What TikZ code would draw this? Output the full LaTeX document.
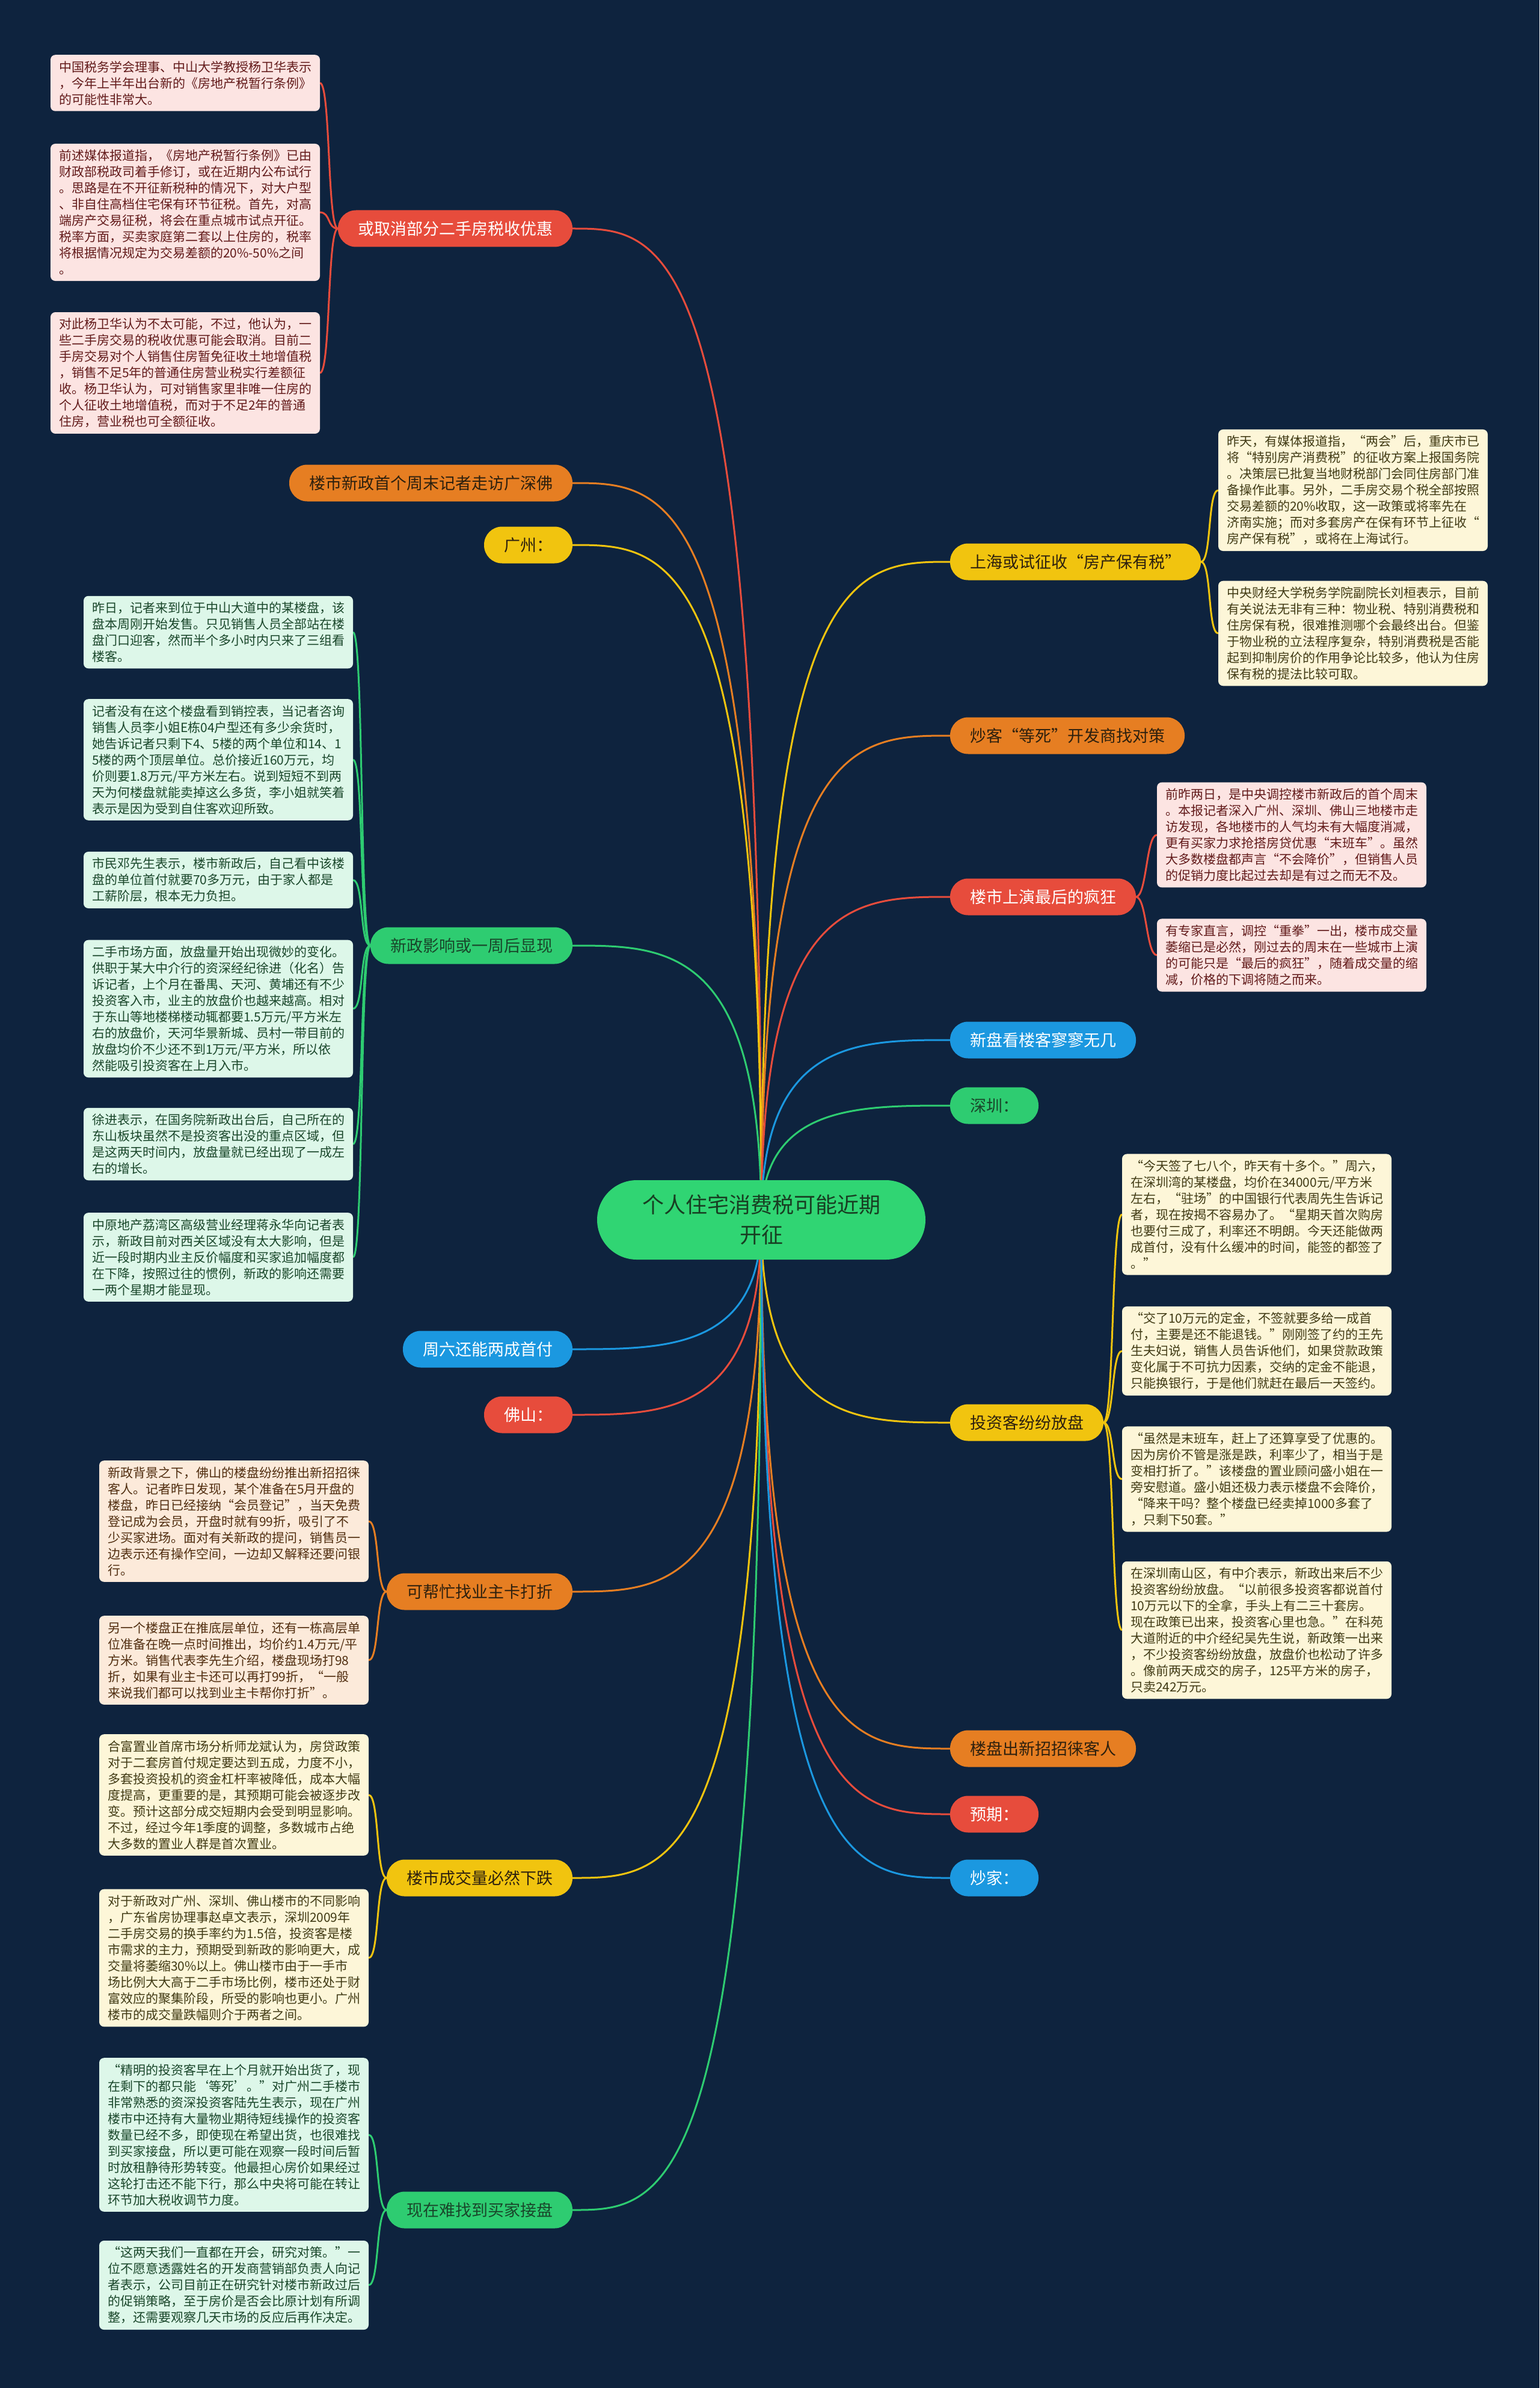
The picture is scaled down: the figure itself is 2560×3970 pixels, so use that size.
\documentclass[tikz,border=0pt]{standalone}
\usepackage{fontspec}
\setmainfont{Noto Sans CJK SC}
\usetikzlibrary{calc}

\definecolor{bgnavy}{RGB}{14,35,62}
\definecolor{cred}{RGB}{231,76,60}
\definecolor{corange}{RGB}{230,126,34}
\definecolor{cyellow}{RGB}{241,196,15}
\definecolor{cgreen}{RGB}{46,204,113}
\definecolor{cblue}{RGB}{27,152,224}
\definecolor{rootgreen}{RGB}{48,213,115}
\definecolor{roottext}{RGB}{24,62,34}
\definecolor{redfill}{RGB}{252,228,226}
\definecolor{redtext}{RGB}{98,26,26}
\definecolor{orangefill}{RGB}{252,234,218}
\definecolor{orangetext}{RGB}{80,45,15}
\definecolor{yellowfill}{RGB}{253,246,216}
\definecolor{yellowtext}{RGB}{64,58,20}
\definecolor{greenfill}{RGB}{221,247,233}
\definecolor{greentext}{RGB}{25,70,42}
\definecolor{darktopic}{RGB}{45,32,14}

\pgfdeclarelayer{back}
\pgfdeclarelayer{links}
\pgfsetlayers{back,links,main}

\begin{document}
\begin{tikzpicture}[
    x=0.5pt, y=-0.5pt,
    every node/.style={inner sep=0pt, outer sep=0pt},
    rootnode/.style={fill=rootgreen, text=roottext, rounded corners=33pt, minimum width=273pt, minimum height=66pt, align=center, font=\fontsize{18pt}{25pt}\selectfont},
    topic/.style={rounded corners=15pt, minimum height=30.5pt, inner xsep=16.5pt, font=\fontsize{13.5pt}{16pt}\selectfont},
    redtopic/.style={topic, fill=cred, text=white},
    orangetopic/.style={topic, fill=corange, text=darktopic},
    yellowtopic/.style={topic, fill=cyellow, text=darktopic},
    greentopic/.style={topic, fill=cgreen, text=greentext},
    bluetopic/.style={topic, fill=cblue, text=white},
    note/.style={rounded corners=4pt, text width=210pt, inner xsep=7pt, inner ysep=5pt, align=left, font=\fontsize{10.5pt}{13.5pt}\selectfont},
    rednote/.style={note, fill=redfill, text=redtext},
    orangenote/.style={note, fill=orangefill, text=orangetext},
    yellownote/.style={note, fill=yellowfill, text=yellowtext},
    greennote/.style={note, fill=greenfill, text=greentext},
    rootlink/.style={line width=1.5pt, to path={.. controls (\tikztostart |- \tikztotarget) and ($(\tikztostart |- \tikztotarget)!0.5!(\tikztotarget)$) .. (\tikztotarget)}},
    leafleft/.style={line width=1.5pt, to path={.. controls +(-18,0) and +(18,0) .. (\tikztotarget)}},
    leafright/.style={line width=1.5pt, to path={.. controls +(18,0) and +(-18,0) .. (\tikztotarget)}}
]
\useasboundingbox (0,0) rectangle (2560,3970);
\begin{pgfonlayer}{back}
\fill[bgnavy] (0,0) rectangle (2560,3970);
\end{pgfonlayer}

% centre
\node[rootnode] (root) at (1266,2028) {个人住宅消费税可能近期\\开征};

% left topics
\node[redtopic, anchor=east] (tax) at (952,380) {或取消部分二手房税收优惠};
\node[orangetopic, anchor=east] (visit) at (952,803) {楼市新政首个周末记者走访广深佛};
\node[yellowtopic, anchor=east] (gz) at (952,906) {广州：};
\node[greentopic, anchor=east] (impact) at (952,1572) {新政影响或一周后显现};
\node[bluetopic, anchor=east] (sat) at (952,2243) {周六还能两成首付};
\node[redtopic, anchor=east] (fs) at (952,2352) {佛山：};
\node[orangetopic, anchor=east] (card) at (952,2646) {可帮忙找业主卡打折};
\node[yellowtopic, anchor=east] (volume) at (952,3122) {楼市成交量必然下跌};
\node[greentopic, anchor=east] (buyer) at (952,3674) {现在难找到买家接盘};

% right topics
\node[yellowtopic, anchor=west] (sh) at (1580,934) {上海或试征收“房产保有税”};
\node[orangetopic, anchor=west] (spec) at (1580,1223) {炒客“等死”开发商找对策};
\node[redtopic, anchor=west] (crazy) at (1580,1491) {楼市上演最后的疯狂};
\node[bluetopic, anchor=west] (newpan) at (1580,1729) {新盘看楼客寥寥无几};
\node[greentopic, anchor=west] (sz) at (1580,1838) {深圳：};
\node[yellowtopic, anchor=west] (invest) at (1580,2365) {投资客纷纷放盘};
\node[orangetopic, anchor=west] (trick) at (1580,2907) {楼盘出新招招徕客人};
\node[redtopic, anchor=west] (expect) at (1580,3016) {预期：};
\node[bluetopic, anchor=west] (trader) at (1580,3122) {炒家：};

% notes of tax
\node[rednote, anchor=east] (tax1) at (532,138) {中国税务学会理事、中山大学教授杨卫华表示\\，今年上半年出台新的《房地产税暂行条例》\\的可能性非常大。};
\node[rednote, anchor=east] (tax2) at (532,353) {前述媒体报道指，《房地产税暂行条例》已由\\财政部税政司着手修订，或在近期内公布试行\\。思路是在不开征新税种的情况下，对大户型\\、非自住高档住宅保有环节征税。首先，对高\\端房产交易征税，将会在重点城市试点开征。\\税率方面，买卖家庭第二套以上住房的，税率\\将根据情况规定为交易差额的20\%-50\%之间\\。};
\node[rednote, anchor=east] (tax3) at (532,620) {对此杨卫华认为不太可能，不过，他认为，一\\些二手房交易的税收优惠可能会取消。目前二\\手房交易对个人销售住房暂免征收土地增值税\\，销售不足5年的普通住房营业税实行差额征\\收。杨卫华认为，可对销售家里非唯一住房的\\个人征收土地增值税，而对于不足2年的普通\\住房，营业税也可全额征收。};

% notes of impact
\node[greennote, anchor=east] (impact1) at (587,1051) {昨日，记者来到位于中山大道中的某楼盘，该\\盘本周刚开始发售。只见销售人员全部站在楼\\盘门口迎客，然而半个多小时内只来了三组看\\楼客。};
\node[greennote, anchor=east] (impact2) at (587,1263) {记者没有在这个楼盘看到销控表，当记者咨询\\销售人员李小姐E栋04户型还有多少余货时，\\她告诉记者只剩下4、5楼的两个单位和14、1\\5楼的两个顶层单位。总价接近160万元，均\\价则要1.8万元/平方米左右。说到短短不到两\\天为何楼盘就能卖掉这么多货，李小姐就笑着\\表示是因为受到自住客欢迎所致。};
\node[greennote, anchor=east] (impact3) at (587,1463) {市民邓先生表示，楼市新政后，自己看中该楼\\盘的单位首付就要70多万元，由于家人都是\\工薪阶层，根本无力负担。};
\node[greennote, anchor=east] (impact4) at (587,1677) {二手市场方面，放盘量开始出现微妙的变化。\\供职于某大中介行的资深经纪徐进（化名）告\\诉记者，上个月在番禺、天河、黄埔还有不少\\投资客入市，业主的放盘价也越来越高。相对\\于东山等地楼梯楼动辄都要1.5万元/平方米左\\右的放盘价，天河华景新城、员村一带目前的\\放盘均价不少还不到1万元/平方米，所以依\\然能吸引投资客在上月入市。};
\node[greennote, anchor=east] (impact5) at (587,1902) {徐进表示，在国务院新政出台后，自己所在的\\东山板块虽然不是投资客出没的重点区域，但\\是这两天时间内，放盘量就已经出现了一成左\\右的增长。};
\node[greennote, anchor=east] (impact6) at (587,2090) {中原地产荔湾区高级营业经理蒋永华向记者表\\示，新政目前对西关区域没有太大影响，但是\\近一段时期内业主反价幅度和买家追加幅度都\\在下降，按照过往的惯例，新政的影响还需要\\一两个星期才能显现。};

% notes of card
\node[orangenote, anchor=east] (card1) at (613,2529) {新政背景之下，佛山的楼盘纷纷推出新招招徕\\客人。记者昨日发现，某个准备在5月开盘的\\楼盘，昨日已经接纳“会员登记”，当天免费\\登记成为会员，开盘时就有99折，吸引了不\\少买家进场。面对有关新政的提问，销售员一\\边表示还有操作空间，一边却又解释还要问银\\行。};
\node[orangenote, anchor=east] (card2) at (613,2760) {另一个楼盘正在推底层单位，还有一栋高层单\\位准备在晚一点时间推出，均价约1.4万元/平\\方米。销售代表李先生介绍，楼盘现场打98\\折，如果有业主卡还可以再打99折，“一般\\来说我们都可以找到业主卡帮你打折”。};

% notes of volume
\node[yellownote, anchor=east] (volume1) at (613,2984) {合富置业首席市场分析师龙斌认为，房贷政策\\对于二套房首付规定要达到五成，力度不小，\\多套投资投机的资金杠杆率被降低，成本大幅\\度提高，更重要的是，其预期可能会被逐步改\\变。预计这部分成交短期内会受到明显影响。\\不过，经过今年1季度的调整，多数城市占绝\\大多数的置业人群是首次置业。};
\node[yellownote, anchor=east] (volume2) at (613,3255) {对于新政对广州、深圳、佛山楼市的不同影响\\，广东省房协理事赵卓文表示，深圳2009年\\二手房交易的换手率约为1.5倍，投资客是楼\\市需求的主力，预期受到新政的影响更大，成\\交量将萎缩30\%以上。佛山楼市由于一手市\\场比例大大高于二手市场比例，楼市还处于财\\富效应的聚集阶段，所受的影响也更小。广州\\楼市的成交量跌幅则介于两者之间。};

% notes of buyer
\node[greennote, anchor=east] (buyer1) at (613,3549) {“精明的投资客早在上个月就开始出货了，现\\在剩下的都只能‘等死’。”对广州二手楼市\\非常熟悉的资深投资客陆先生表示，现在广州\\楼市中还持有大量物业期待短线操作的投资客\\数量已经不多，即使现在希望出货，也很难找\\到买家接盘，所以更可能在观察一段时间后暂\\时放租静待形势转变。他最担心房价如果经过\\这轮打击还不能下行，那么中央将可能在转让\\环节加大税收调节力度。};
\node[greennote, anchor=east] (buyer2) at (613,3799) {“这两天我们一直都在开会，研究对策。”一\\位不愿意透露姓名的开发商营销部负责人向记\\者表示，公司目前正在研究针对楼市新政过后\\的促销策略，至于房价是否会比原计划有所调\\整，还需要观察几天市场的反应后再作决定。};

% notes of sh
\node[yellownote, anchor=west] (sh1) at (2026,815) {昨天，有媒体报道指，“两会”后，重庆市已\\将“特别房产消费税”的征收方案上报国务院\\。决策层已批复当地财税部门会同住房部门准\\备操作此事。另外，二手房交易个税全部按照\\交易差额的20\%收取，这一政策或将率先在\\济南实施；而对多套房产在保有环节上征收“\\房产保有税”，或将在上海试行。};
\node[yellownote, anchor=west] (sh2) at (2026,1053) {中央财经大学税务学院副院长刘桓表示，目前\\有关说法无非有三种：物业税、特别消费税和\\住房保有税，很难推测哪个会最终出台。但鉴\\于物业税的立法程序复杂，特别消费税是否能\\起到抑制房价的作用争论比较多，他认为住房\\保有税的提法比较可取。};

% notes of crazy
\node[rednote, anchor=west] (crazy1) at (1924,1388) {前昨两日，是中央调控楼市新政后的首个周末\\。本报记者深入广州、深圳、佛山三地楼市走\\访发现，各地楼市的人气均未有大幅度消减，\\更有买家力求抢搭房贷优惠“末班车”。虽然\\大多数楼盘都声言“不会降价”，但销售人员\\的促销力度比起过去却是有过之而无不及。};
\node[rednote, anchor=west] (crazy2) at (1924,1588) {有专家直言，调控“重拳”一出，楼市成交量\\萎缩已是必然，刚过去的周末在一些城市上演\\的可能只是“最后的疯狂”，随着成交量的缩\\减，价格的下调将随之而来。};

% notes of invest
\node[yellownote, anchor=west] (invest1) at (1866,2019) {“今天签了七八个，昨天有十多个。”周六，\\在深圳湾的某楼盘，均价在34000元/平方米\\左右，“驻场”的中国银行代表周先生告诉记\\者，现在按揭不容易办了。“星期天首次购房\\也要付三成了，利率还不明朗。今天还能做两\\成首付，没有什么缓冲的时间，能签的都签了\\。”};
\node[yellownote, anchor=west] (invest2) at (1866,2246) {“交了10万元的定金，不签就要多给一成首\\付，主要是还不能退钱。”刚刚签了约的王先\\生夫妇说，销售人员告诉他们，如果贷款政策\\变化属于不可抗力因素，交纳的定金不能退，\\只能换银行，于是他们就赶在最后一天签约。};
\node[yellownote, anchor=west] (invest3) at (1866,2459) {“虽然是末班车，赶上了还算享受了优惠的。\\因为房价不管是涨是跌，利率少了，相当于是\\变相打折了。”该楼盘的置业顾问盛小姐在一\\旁安慰道。盛小姐还极力表示楼盘不会降价，\\“降来干吗？整个楼盘已经卖掉1000多套了\\，只剩下50套。”};
\node[yellownote, anchor=west] (invest4) at (1866,2710) {在深圳南山区，有中介表示，新政出来后不少\\投资客纷纷放盘。“以前很多投资客都说首付\\10万元以下的全拿，手头上有二三十套房。\\现在政策已出来，投资客心里也急。”在科苑\\大道附近的中介经纪吴先生说，新政策一出来\\，不少投资客纷纷放盘，放盘价也松动了许多\\。像前两天成交的房子，125平方米的房子，\\只卖242万元。};

% Connections
\begin{pgfonlayer}{links}
\draw[rootlink, cred] (root.center) to (tax.east);
\draw[rootlink, corange] (root.center) to (visit.east);
\draw[rootlink, cyellow] (root.center) to (gz.east);
\draw[rootlink, cgreen] (root.center) to (impact.east);
\draw[rootlink, cblue] (root.center) to (sat.east);
\draw[rootlink, cred] (root.center) to (fs.east);
\draw[rootlink, corange] (root.center) to (card.east);
\draw[rootlink, cyellow] (root.center) to (volume.east);
\draw[rootlink, cgreen] (root.center) to (buyer.east);
\draw[rootlink, cyellow] (root.center) to (sh.west);
\draw[rootlink, corange] (root.center) to (spec.west);
\draw[rootlink, cred] (root.center) to (crazy.west);
\draw[rootlink, cblue] (root.center) to (newpan.west);
\draw[rootlink, cgreen] (root.center) to (sz.west);
\draw[rootlink, cyellow] (root.center) to (invest.west);
\draw[rootlink, corange] (root.center) to (trick.west);
\draw[rootlink, cred] (root.center) to (expect.west);
\draw[rootlink, cblue] (root.center) to (trader.west);

\foreach \n in {1,2,3} \draw[leafleft, cred] (tax.west) to (tax\n.east);
\foreach \n in {1,...,6} \draw[leafleft, cgreen] (impact.west) to (impact\n.east);
\foreach \n in {1,2} \draw[leafleft, corange] (card.west) to (card\n.east);
\foreach \n in {1,2} \draw[leafleft, cyellow] (volume.west) to (volume\n.east);
\foreach \n in {1,2} \draw[leafleft, cgreen] (buyer.west) to (buyer\n.east);
\foreach \n in {1,2} \draw[leafright, cyellow] (sh.east) to (sh\n.west);
\foreach \n in {1,2} \draw[leafright, cred] (crazy.east) to (crazy\n.west);
\foreach \n in {1,...,4} \draw[leafright, cyellow] (invest.east) to (invest\n.west);
\end{pgfonlayer}

\end{tikzpicture}
\end{document}
